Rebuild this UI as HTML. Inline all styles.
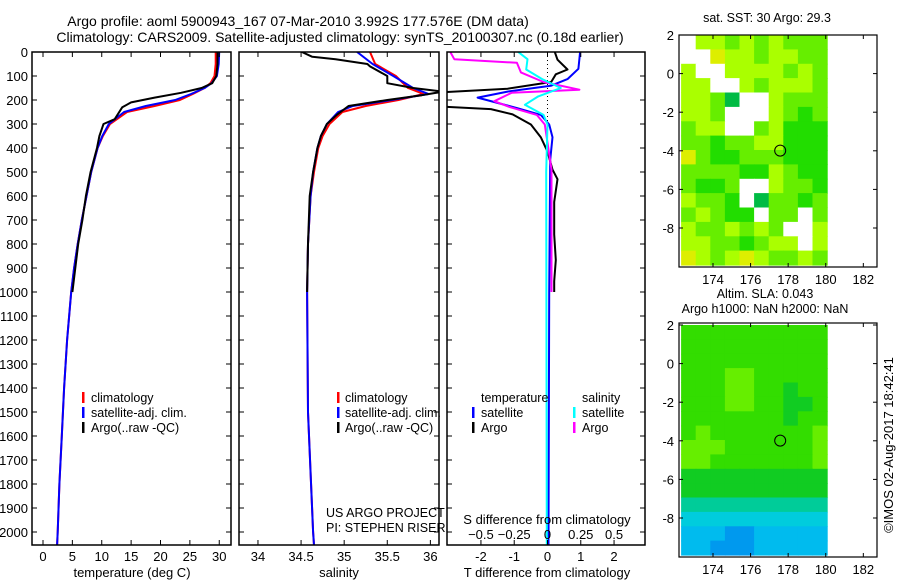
<!DOCTYPE html>
<html><head><meta charset="utf-8"><style>
html,body{margin:0;padding:0;background:#fff;}
svg{display:block;font-family:"Liberation Sans",sans-serif;}
text{font-size:12.5px;fill:#000;}
text.big{font-size:14px;}
text.ax{font-size:13px;}
</style></head><body>
<svg id="chart" width="900" height="580" viewBox="0 0 900 580">
<text class="big" x="298" y="26" text-anchor="middle">Argo profile: aoml 5900943_167 07-Mar-2010 3.992S 177.576E (DM data)</text>
<text class="big" x="340" y="42" text-anchor="middle">Climatology: CARS2009. Satellite-adjusted climatology: synTS_20100307.nc (0.18d earlier)</text>
<g id="g"></g>
</svg>
<script>
// ---- profile data: [depth, value]
const tempClim=[[0,29.4],[50,29.4],[100,29.2],[130,28.5],[150,27.5],[175,25.5],[200,23.3],[225,19],[250,14.3],[300,11.4],[350,10.2],[400,9.3],[500,8.2],[600,7.4],[700,6.6],[800,5.9],[900,5.3],[1000,4.8],[1200,4.1],[1400,3.6],[1600,3.2],[1800,2.8],[2000,2.5],[2054,2.4]];
const tempSat=[[0,30.0],[50,29.9],[100,29.6],[130,28.7],[150,27.5],[175,25.2],[200,22.5],[225,17.5],[250,13.8],[300,11.2],[350,10.1],[400,9.3],[500,8.2],[600,7.4],[700,6.6],[800,5.9],[900,5.3],[1000,4.8],[1200,4.1],[1400,3.6],[1600,3.2],[1800,2.8],[2000,2.5],[2054,2.4]];
const tempArgo=[[0,29.7],[50,29.7],[100,29.5],[130,28.8],[150,27],[170,23.5],[190,19],[210,15],[230,13.5],[280,12.2],[300,10.3],[350,9.6],[400,9.2],[500,8.1],[600,7.3],[700,6.7],[800,6.0],[900,5.5],[1000,5.0]];
const salClim=[[0,35.3],[50,35.36],[100,35.6],[150,35.74],[175,35.92],[200,35.63],[225,35.25],[250,34.98],[300,34.83],[350,34.75],[400,34.7],[500,34.65],[600,34.61],[800,34.58],[1000,34.57],[1500,34.58],[2000,34.64],[2054,34.65]];
const salSat=[[0,35.15],[50,35.33],[100,35.57],[150,35.8],[175,35.98],[200,35.55],[225,35.1],[250,34.93],[300,34.8],[350,34.73],[400,34.69],[500,34.64],[600,34.61],[800,34.58],[1000,34.57],[1500,34.58],[2000,34.64],[2054,34.65]];
const salArgo=[[0,34.51],[20,34.63],[30,34.9],[50,35.27],[60,35.3],[100,35.5],[130,35.5],[150,35.8],[165,36.15],[180,35.9],[200,35.5],[225,35.05],[260,34.92],[300,34.8],[350,34.73],[400,34.69],[500,34.64],[600,34.6],[800,34.58],[1000,34.57]];
const dTsat=[[0,0.98],[70,0.93],[113,0.6],[141,0.1],[165,-1.2],[190,-2.1],[234,-0.9],[262,-0.2],[302,0.05],[355,0.15],[450,0.08],[1000,0.05],[2054,0.03]];
const dTargo=[[0,0.22],[32,0.3],[73,0.6],[93,0.25],[125,0.11],[153,-1.2],[170,-3.5],[225,-3.5],[238,-1.7],[260,-1.05],[302,-0.5],[355,-0.2],[415,0],[490,0.15],[530,0.3],[625,0.2],[760,0.2],[867,0.25],[955,0.2],[1000,0.2]];
const dSargo=[[0,-0.73],[30,-0.7],[45,-0.23],[85,-0.2],[125,-0.03],[157,0.24],[170,-0.27],[205,-0.4],[230,-0.28],[262,-0.08],[302,-0.02],[490,0.03],[1000,0.03]];
const dSsat=[[0,-0.22],[30,-0.15],[73,-0.16],[113,-0.04],[150,0.1],[185,-0.07],[220,-0.17],[262,-0.03],[302,0],[500,-0.01],[2054,-0.005]];
const depthTicks=[0,100,200,300,400,500,600,700,800,900,1000,1100,1200,1300,1400,1500,1600,1700,1800,1900,2000];
const tempTicks=[0,5,10,15,20,25,30];
const salTicks=[34,34.5,35,35.5,36];
const dTTicks=[-2,-1,0,1,2];
const dSTicks=[-0.5,-0.25,0,0.25,0.5];
// ---- maps (level codes per row, top=north)
const sstRows=["0223232333","0062232233","2002222323","2200232223","2235002333","2230002343","3220032444","3343322444","6344333444","3333442344","3443002334","2334053343","3234403303","2332323002","2233432202","6232623323"];
const slaRows=["2222222222","2222222222","2222222222","2221122222","2221122322","2221122332","2222222322","2122222221","1112222221","1122222221","3333333333","3333333333","4444444444","5555555555","6667766666","6677766666"];
const lonTicks=[174,176,178,180,182];
const latTicks=[2,0,-2,-4,-6,-8];
const argoPos=[177.576,-3.992];

const NS="http://www.w3.org/2000/svg";
const G=document.getElementById('g');
function mk(tag,attrs,parent){const e=document.createElementNS(NS,tag);for(const k in attrs)e.setAttribute(k,attrs[k]);(parent||G).appendChild(e);return e;}
const top0=52,bot0=545;
const yD=d=>top0+d*0.24;

function panel(name,x0,x1,vmin,vmax){
  const xs=v=>x0+(v-vmin)/(vmax-vmin)*(x1-x0);
  const cp=mk('clipPath',{id:'cp-'+name});
  mk('rect',{x:x0,y:top0,width:x1-x0,height:bot0-top0},cp);
  const g=mk('g',{'clip-path':'url(#cp-'+name+')'});
  
  
  const fr=mk('rect',{x:x0,y:top0,width:x1-x0,height:bot0-top0,fill:'none',stroke:'#000','stroke-width':1.5});
  
  
  depthTicks.forEach(d=>{mk('line',{x1:x0,x2:x0+5,y1:yD(d),y2:yD(d),stroke:'#000'});mk('line',{x1:x1,x2:x1-5,y1:yD(d),y2:yD(d),stroke:'#000'});});
  return {xs,g};
}
function line(p,arr,col,name,w){
  const d=arr.map((q,i)=>(i?'L':'M')+p.xs(q[1]).toFixed(1)+' '+yD(q[0]).toFixed(1)).join(' ');
  const e=mk('path',{d:d,fill:'none',stroke:col,'stroke-width':w||2,'stroke-linejoin':'round'},p.g);
  
  
}
function txt(x,y,s,name,anchor,cls){const e=mk('text',{x:x,y:y,'text-anchor':anchor||'start'});if(cls)e.setAttribute('class',cls);e.textContent=s;return e;}
function xticks(p,ticks,y,lbls,top){
  ticks.forEach(t=>{const x=p.xs(t);mk('line',{x1:x,x2:x,y1:bot0,y2:bot0-5,stroke:'#000'});if(top)mk('line',{x1:x,x2:x,y1:top0,y2:top0+5,stroke:'#000'});
    if(lbls){txt(x,y,String(t),'x-tick-label','middle','ax');}});
}
function mark(x,y,col){const e=mk('rect',{x:x,y:y-10,width:2.5,height:11,fill:col});}

depthTicks.forEach(d=>{txt(28,yD(d)+5,String(d),'depth-tick-label','end','ax');});

// panel 1
const P1=panel('temperature',32,231,-1.87,32.0);
line(P1,tempClim,'#f00','temp-climatology-line');line(P1,tempSat,'#00f','temp-satellite-line');line(P1,tempArgo,'#000','temp-argo-line');
xticks(P1,tempTicks,561,true,true);
txt(132,577,'temperature (deg C)','x-axis-title-temperature','middle','ax');
mark(82,402,'#f00');txt(91,402,'climatology','legend-climatology');
mark(82,417,'#00f');txt(91,417,'satellite-adj. clim.','legend-satellite');
mark(82,432,'#000');txt(91,432,'Argo(..raw -QC)','legend-argo');

// panel 2
const P2=panel('salinity',239,439,33.78,36.1);
line(P2,salClim,'#f00','sal-climatology-line');line(P2,salSat,'#00f','sal-satellite-line');line(P2,salArgo,'#000','sal-argo-line');
xticks(P2,salTicks,561,true,true);
txt(339,577,'salinity','x-axis-title-salinity','middle','ax');
mark(337,402,'#f00');txt(345,402,'climatology','legend-climatology');
mark(337,417,'#00f');txt(345,417,'satellite-adj. clim.','legend-satellite');
mark(337,432,'#000');txt(345,432,'Argo(..raw -QC)','legend-argo');
txt(326,517,'US ARGO PROJECT','project-label');
txt(326,532,'PI: STEPHEN RISER','pi-label');

// panel 3
const P3=panel('difference',447,645,-3.02,2.93);
const P3s={xs:v=>P3.xs(v*4),g:P3.g};
mk('line',{x1:P3.xs(0),x2:P3.xs(0),y1:top0,y2:yD(310),stroke:'#000','stroke-dasharray':'1,3'},P3.g);
line(P3,dTargo,'#000','tdiff-argo-line');line(P3,dTsat,'#00f','tdiff-satellite-line');
line(P3s,dSargo,'#f0f','sdiff-argo-line');line(P3s,dSsat,'#0ff','sdiff-satellite-line');
xticks(P3,dTTicks,561,true,true);
dSTicks.forEach(t=>{txt(P3s.xs(t),539,String(t).replace('-','\u2212'),'s-tick-label','middle','ax');});
txt(547,524,'S difference from climatology','s-axis-title','middle','ax');
txt(547,577,'T difference from climatology','t-axis-title','middle','ax');
txt(481,402,'temperature','legend-temperature-header');txt(582,402,'salinity','legend-salinity-header');
mark(472,417,'#00f');txt(481,417,'satellite','legend-t-satellite');
mark(472,432,'#000');txt(481,432,'Argo','legend-t-argo');
mark(573,417,'#0ff');txt(582,417,'satellite','legend-s-satellite');
mark(573,432,'#f0f');txt(582,432,'Argo','legend-s-argo');

// maps
const sstCol={'0':'#fff','1':'#ccff00','2':'#aaff00','3':'#66ee00','4':'#22dd00','5':'#00bb44','6':'#ddee00'};
const slaCol={'1':'#66ee00','2':'#33dd00','3':'#11cc22','4':'#00cc99','5':'#00ccdd','6':'#00bbee','7':'#0099ee'};
function map(name,fx0,fy0,fx1,fy1,lat2y,rows,cols,title1,title2){
  const lx=l=>713+(l-174)*18.79;
  const ly=l=>lat2y+(2-l)*19.3;
  const g=mk('g',{});
  
  
  const x0=lx(172.3),x1=lx(180.07),y0=ly(2),y1=fy1-2;
  const nr=rows.length,nc=rows[0].length,cw=(x1-x0)/nc,ch=(y1-y0)/nr;
  rows.forEach((r,i)=>{for(let j=0;j<nc;j++){const c=mk('rect',{x:(x0+j*cw).toFixed(1),y:(y0+i*ch).toFixed(1),width:(cw+0.6).toFixed(1),height:(ch+0.6).toFixed(1),fill:cols[r[j]]},g);
    
    }});
  const ci=mk('circle',{cx:lx(argoPos[0]),cy:ly(argoPos[1]),r:5.5,fill:'none',stroke:'#000'},g);
  
  
  const fr=mk('rect',{x:fx0,y:fy0,width:fx1-fx0,height:fy1-fy0,fill:'none',stroke:'#000','stroke-width':1.2},g);
  
  
  lonTicks.forEach(l=>{const x=lx(l);mk('line',{x1:x,x2:x,y1:fy1,y2:fy1-4,stroke:'#000'},g);mk('line',{x1:x,x2:x,y1:fy0,y2:fy0+4,stroke:'#000'},g);txt(x,fy1+17,String(l),'lon-tick-label','middle','ax');});
  latTicks.forEach(l=>{const y=ly(l);mk('line',{x1:fx0,x2:fx0+4,y1:y,y2:y,stroke:'#000'},g);mk('line',{x1:fx1,x2:fx1-4,y1:y,y2:y,stroke:'#000'},g);txt(fx0-5,y+5,String(l),'lat-tick-label','end','ax');});
  if(title2){txt(765,fy0-25,title1,name+'-title','middle');txt(765,fy0-10,title2,name+'-subtitle','middle');}
  else txt(767,fy0-13,title1,name+'-title','middle');
}
map('sst-map',679,35,877,267,35,sstRows,sstCol,'sat. SST: 30 Argo: 29.3');
map('sla-map',679,323,877,557,325,slaRows,slaCol,'Altim. SLA: 0.043','Argo h1000: NaN h2000: NaN');
const cr=txt(0,0,'\u00a9IMOS 02-Aug-2017 18:42:41','timestamp-label','middle','ax');
cr.setAttribute('transform','translate(893,445) rotate(-90)');
</script>
</body></html>
